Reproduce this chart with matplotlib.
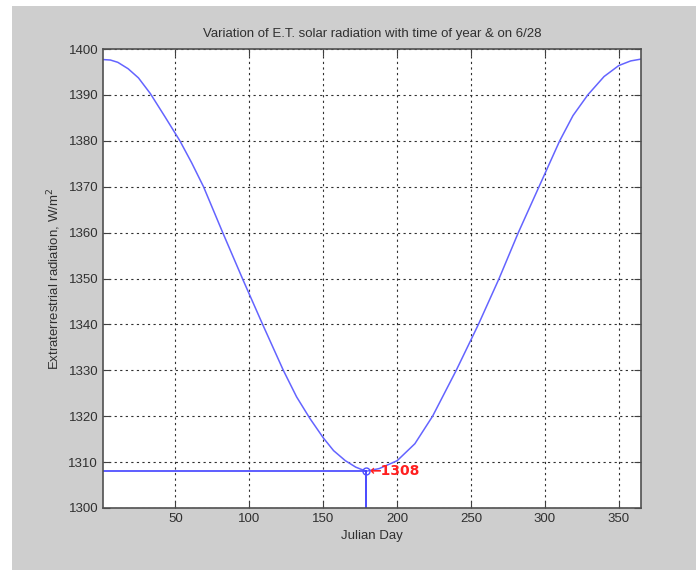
import matplotlib.pyplot as plt
from matplotlib.patches import Rectangle

plt.rcParams['font.family'] = ['Liberation Sans', 'DejaVu Sans']

# extraterrestrial radiation read over the year
days = [1, 6, 11, 18, 25, 33, 43, 53, 61, 69, 82, 96, 109, 123, 132, 141,
        150, 157, 165, 172, 179, 188, 200, 212, 224, 240, 255, 269, 282, 296,
        310, 319, 329, 340, 350, 358, 365]
rad = [1397.7, 1397.6, 1397.1, 1395.7, 1393.7, 1390.3, 1385.2, 1380.0,
       1375.2, 1370.0, 1360.0, 1349.5, 1340.0, 1330.0, 1324.2, 1319.5,
       1315.3, 1312.5, 1310.3, 1308.9, 1308.0, 1308.6, 1310.3, 1314.0,
       1320.0, 1330.0, 1340.0, 1350.0, 1360.0, 1370.0, 1380.0, 1385.5,
       1390.0, 1394.0, 1396.4, 1397.4, 1397.8]

sel_day = 179   # 6/28
sel_val = 1308

xticks = [50, 100, 150, 200, 250, 300, 350]
yticks = list(range(1300, 1401, 10))

fig = plt.figure(figsize=(6.96, 5.70), dpi=100, facecolor='white')
fig.patches.append(Rectangle((12 / 696, 0), 1, 1 - 6 / 570, transform=fig.transFigure,
                             facecolor='#cecece', edgecolor='none', zorder=-1))
ax = fig.add_axes([103 / 696, 1 - 508 / 570, (641 - 103) / 696, (508 - 49) / 570])
ax.set_facecolor('white')

ax.plot(days, rad, color='#6464ff', lw=1.1)
ax.plot([1, sel_day], [sel_val, sel_val], color='#5050ff', lw=1.3)
ax.plot([sel_day, sel_day], [1300, sel_val], color='#3c3cff', lw=1.3)
ax.plot(sel_day, sel_val, 'o', mfc='none', mec='#5050ff', ms=5, mew=1)
ax.text(sel_day + 2, sel_val, '\u2190' + str(sel_val), color='#ff2020',
        fontsize=10, fontweight='bold', va='center', ha='left',
        family=['DejaVu Sans'])

ax.set_xlim(1, 365)
ax.set_ylim(1300, 1400)
ax.set_xticks(xticks)
ax.set_yticks(yticks)
ax.grid(True, color='#303030', linestyle=(0, (2, 3)), lw=0.8)
ax.tick_params(direction='in', top=True, right=True, length=5,
               colors='#404040', labelcolor='#303030', labelsize=9.5)
for s in ax.spines.values():
    s.set_color('#505050')
    s.set_linewidth(1.2)

ax.set_title('Variation of E.T. solar radiation with time of year & on 6/28',
             fontsize=9.5, color='#303030', pad=9)
ax.set_xlabel('Julian Day', fontsize=9.5, color='#303030')
ax.set_ylabel('Extraterrestrial radiation, W/m$^2$', fontsize=9.5, color='#303030')

fig.savefig('out.png', dpi=100)
